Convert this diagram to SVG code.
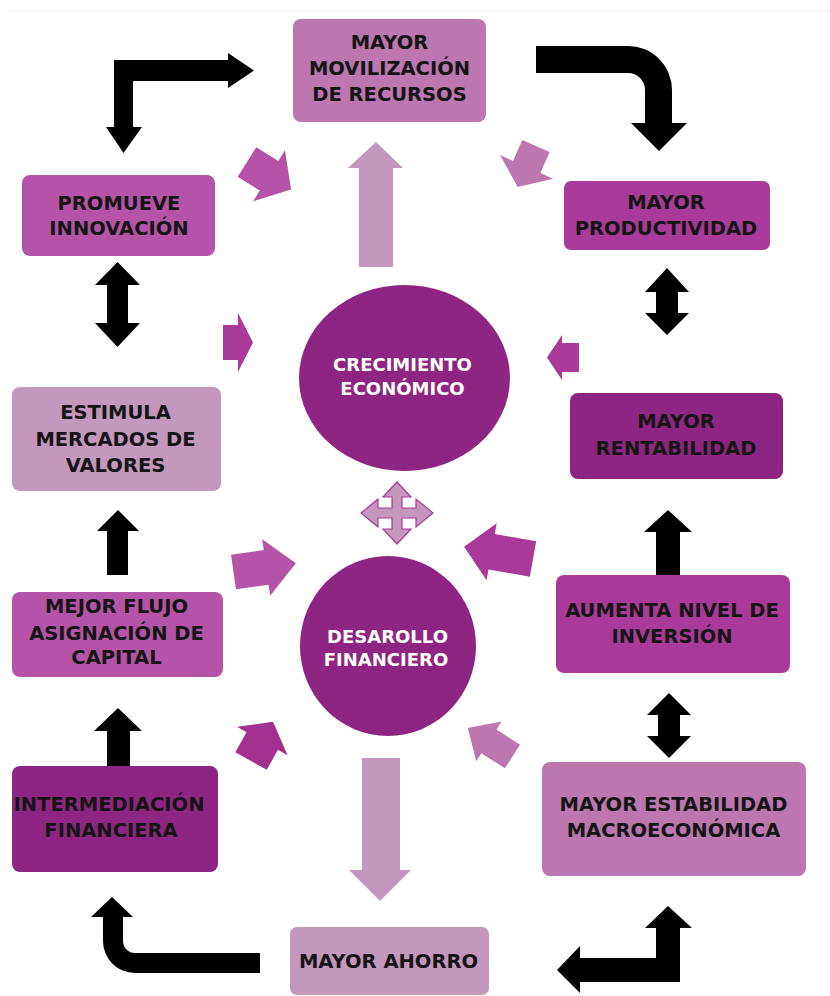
<svg xmlns="http://www.w3.org/2000/svg" width="830" height="996" viewBox="0 0 830 996">
<defs>
<style>
.t{font-family:"DejaVu Sans","Liberation Sans",sans-serif;font-weight:bold;font-size:19.5px;fill:#151515;text-anchor:middle}
.c{font-family:"DejaVu Sans","Liberation Sans",sans-serif;font-weight:bold;font-size:18px;fill:#ffffff;text-anchor:middle}
.blk{fill:#000000}
.c1{fill:#BC76B0}
.c2{fill:#B553A8}
.c3{fill:#A93A99}
.c4{fill:#8F2582}
.c5{fill:#C497BC}
</style>
</defs>
<rect x="0" y="0" width="830" height="996" fill="#ffffff"/>
<rect x="7" y="10.5" width="823" height="1" fill="#f3f3f3"/>

<g id="connectors">
  <path class="blk" d="M114,60 L228,60 L228,53 L254,70.5 L228,88 L228,81 L133,81 L133,127 L142,127 L123.5,153 L106,127 L114,127 Z"/>
  <path class="blk" d="M536,46 L628,46 A44,44 0 0 1 672,90 L672,123 L687,123 L659,151 L631,123 L645,123 L645,90 A17,17 0 0 0 628,73 L536,73 Z"/>
  <path class="blk" d="M117.5,262 L140,285 L128,285 L128,323 L140,323 L117.5,347 L95,323 L107,323 L107,285 L95,285 Z"/>
  <path class="blk" d="M667,268 L689,292 L678,292 L678,313 L689,313 L667,335 L645,313 L656,313 L656,292 L645,292 Z"/>
  <path class="blk" d="M118,510 L139,531 L128,531 L128,575 L107,575 L107,531 L97,531 Z"/>
  <path class="blk" d="M118,708 L142,731 L130,731 L130,768 L107,768 L107,731 L94,731 Z"/>
  <path class="blk" d="M668,510 L692,532 L680,532 L680,576 L656,576 L656,532 L644,532 Z"/>
  <path class="blk" d="M669,693 L691,715 L680,715 L680,736 L691,736 L669,758 L647,736 L658,736 L658,715 L647,715 Z"/>
  <path class="blk" d="M260,953 L135,953 A12,12 0 0 1 123,941 L123,917 L133,917 L112,897 L91,917 L103,917 L103,941 A32,32 0 0 0 135,973 L260,973 Z"/>
  <path class="blk" d="M668,906 L692,928 L680,928 L680,982 L580,982 L580,993 L557,970 L580,946 L580,958 L656,958 L656,928 L645,928 Z"/>
  <path class="c5" d="M376,142 L403,168 L393,168 L393,267 L359,267 L359,168 L348,168 Z"/>
  <path class="c5" d="M362,758 L400,758 L400,870 L411,870 L380,901 L349,870 L362,870 Z"/>
  <path class="c2" transform="translate(247,162) rotate(32)" d="M0,-17.5 L26,-17.5 L26,-30 L52,0 L26,30 L26,17.5 L0,17.5 Z"/>
  <path class="c1" transform="translate(536,146) rotate(114)" d="M0,-15 L23,-15 L23,-29 L45,0 L23,29 L23,15 L0,15 Z"/>
  <path class="c3" transform="translate(223,342.5)" d="M0,-17.5 L15,-17.5 L15,-29.5 L30,0 L15,29.5 L15,17.5 L0,17.5 Z"/>
  <path class="c3" transform="translate(579,357.5) rotate(180)" d="M0,-14.5 L17,-14.5 L17,-22.5 L32,0 L17,22.5 L17,14.5 L0,14.5 Z"/>
  <path class="c2" transform="translate(233.5,572) rotate(-8)" d="M0,-17.5 L33,-17.5 L33,-28.5 L63,0 L33,28.5 L33,17.5 L0,17.5 Z"/>
  <path class="c3" transform="translate(533,559) rotate(190)" d="M0,-18 L42,-18 L42,-29 L70,0 L42,29 L42,18 L0,18 Z"/>
  <path fill="#A1308F" transform="translate(251,761) rotate(-60.6)" d="M0,-18 L23,-18 L23,-29 L45,0 L23,29 L23,18 L0,18 Z"/>
  <path class="c1" transform="translate(512.5,756.5) rotate(212.6)" d="M0,-14 L28,-14 L28,-23.5 L53,0 L28,23.5 L28,14 L0,14 Z"/>
  <path fill="#C497BC" stroke="#A93A99" stroke-width="1.2" transform="translate(397,513)" d="M0,-31 L14,-16 L5,-16 L5,-5 L19,-5 L19,-14 L36,0 L19,14 L19,5 L5,5 L5,16 L14,16 L0,31 L-14,16 L-5,16 L-5,5 L-19,5 L-19,14 L-36,0 L-19,-14 L-19,-5 L-5,-5 L-5,-16 L-14,-16 Z"/>
</g>

<g id="movilizacion">
  <rect class="c1" x="293" y="19" width="193" height="103" rx="8"/>
  <text class="t" x="389.5" y="49">MAYOR</text>
  <text class="t" x="389.5" y="75">MOVILIZACIÓN</text>
  <text class="t" x="389.5" y="101">DE RECURSOS</text>
</g>
<g id="promueve">
  <rect class="c2" x="22" y="175" width="193" height="81" rx="8"/>
  <text class="t" x="119" y="210">PROMUEVE</text>
  <text class="t" x="119" y="235">INNOVACIÓN</text>
</g>
<g id="productividad">
  <rect class="c3" x="564" y="181" width="206" height="69" rx="7"/>
  <text class="t" x="666" y="209">MAYOR</text>
  <text class="t" x="666" y="235">PRODUCTIVIDAD</text>
</g>
<g id="estimula">
  <rect class="c5" x="12" y="387" width="209" height="104" rx="8"/>
  <text class="t" x="115.5" y="419">ESTIMULA</text>
  <text class="t" x="115.5" y="446">MERCADOS DE</text>
  <text class="t" x="115.5" y="472">VALORES</text>
</g>
<g id="rentabilidad">
  <rect class="c4" x="570" y="393" width="213" height="86" rx="8"/>
  <text class="t" x="676" y="428">MAYOR</text>
  <text class="t" x="676" y="455">RENTABILIDAD</text>
</g>
<g id="mejor-flujo">
  <rect class="c2" x="12" y="592" width="211" height="85" rx="8"/>
  <text class="t" x="116.5" y="613">MEJOR FLUJO</text>
  <text class="t" x="116.5" y="640">ASIGNACIÓN DE</text>
  <text class="t" x="116.5" y="664">CAPITAL</text>
</g>
<g id="aumenta">
  <rect class="c3" x="556" y="575" width="234" height="98" rx="8"/>
  <text class="t" x="672" y="617">AUMENTA NIVEL DE</text>
  <text class="t" x="672" y="643">INVERSIÓN</text>
</g>
<g id="intermediacion">
  <rect class="c4" x="12" y="766" width="206" height="106" rx="8"/>
  <text class="t" x="109" y="811">INTERMEDIACIÓN</text>
  <text class="t" x="111" y="837">FINANCIERA</text>
</g>
<g id="estabilidad">
  <rect class="c1" x="542" y="762" width="264" height="114" rx="8"/>
  <text class="t" x="673.5" y="811">MAYOR ESTABILIDAD</text>
  <text class="t" x="673.5" y="837">MACROECONÓMICA</text>
</g>
<g id="ahorro">
  <rect class="c5" x="290" y="927" width="199" height="68" rx="7"/>
  <text class="t" x="388.5" y="968">MAYOR AHORRO</text>
</g>
<g id="crecimiento">
  <ellipse class="c4" cx="404.5" cy="378" rx="105.5" ry="93"/>
  <text class="c" x="402.5" y="371">CRECIMIENTO</text>
  <text class="c" x="402.5" y="395">ECONÓMICO</text>
</g>
<g id="desarrollo">
  <ellipse class="c4" cx="388" cy="646" rx="88" ry="90"/>
  <text class="c" x="387.5" y="643">DESAROLLO</text>
  <text class="c" x="386" y="666">FINANCIERO</text>
</g>
</svg>
